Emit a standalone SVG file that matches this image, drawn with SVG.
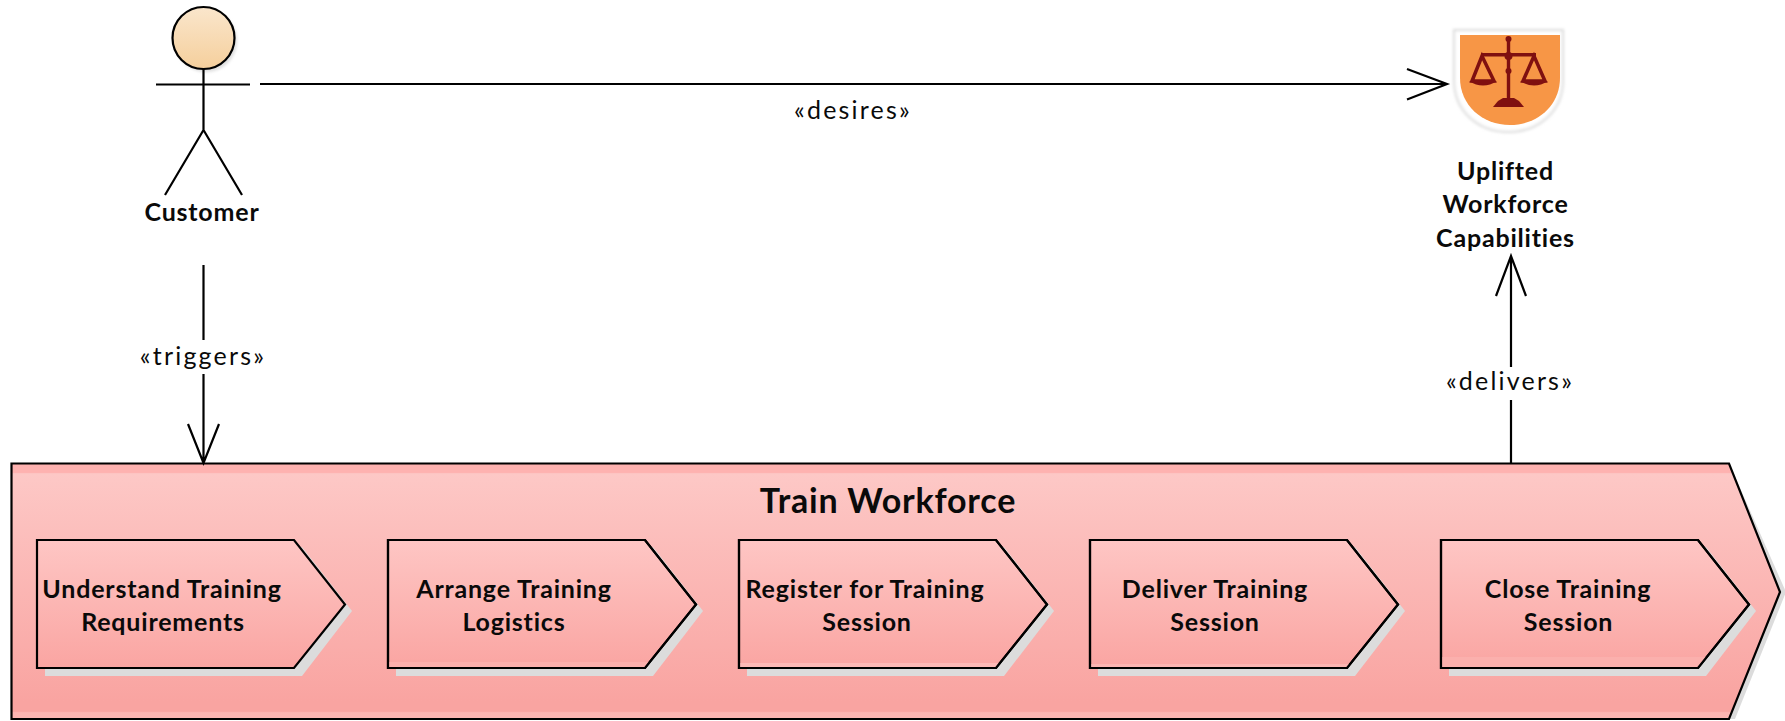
<svg xmlns="http://www.w3.org/2000/svg" width="1785" height="721" viewBox="0 0 1785 721">
<style>
.t{font-family:Lato,"Liberation Sans",sans-serif;fill:#0a0a0a;text-anchor:middle}
.b{font-weight:700;font-size:25px;letter-spacing:.8px}
.l{font-size:25px;letter-spacing:2.2px}
.n{stroke:#000;stroke-width:2.200;fill:url(#g);stroke-linejoin:miter}
.o{fill:none}
.c{stroke:#000;stroke-width:2.200;fill:none}
.s{fill:#dcdcdc}
</style>
<defs>
<linearGradient id="g" x1="0" y1="0" x2="0" y2="1">
<stop offset="0" stop-color="#feb2b0"/><stop offset=".035" stop-color="#feb2b0"/><stop offset=".04" stop-color="#fdc8c6"/><stop offset=".93" stop-color="#f9a4a1"/><stop offset=".97" stop-color="#f9a4a1"/><stop offset=".975" stop-color="#fcb5b2"/><stop offset="1" stop-color="#fcb5b2"/>
</linearGradient>
<linearGradient id="h" x1="0" y1="0" x2="0" y2="1"><stop offset="0" stop-color="#fae6cc"/><stop offset="1" stop-color="#f5cf9c"/></linearGradient>
<linearGradient id="i" x1="0" y1="0" x2="0" y2="1"><stop offset="0" stop-color="#fec6c4"/><stop offset="1" stop-color="#faa5a2"/></linearGradient>
<filter id="blur" x="-10%" y="-10%" width="120%" height="120%"><feGaussianBlur stdDeviation="1.500"/></filter>
</defs>
<g id="train-workforce">
<path class="s" d="M1729 463l57 129-51 127h-6z" />
<path class="n" d="M11.5 463.5H1729L1780 592 1729 719H11.5Z"/>
<text class="t" x="888" y="513" style="font-weight:700;font-size:34px;letter-spacing:.8px">Train Workforce</text>
</g>
<g id="understand"><path class="s" d="M45 547H302L352 611 302 676H45Z"/><path class="n" style="fill:url(#i)" d="M37 540H294L345 604.5 294 668H37Z"/><text class="t b" x="162" y="598">Understand Training</text><text class="t b" x="163" y="631">Requirements</text></g>
<g id="arrange"><path class="s" d="M396 547H653L703 611 653 676H396Z"/><path class="n" style="fill:url(#i)" d="M388 540H645L696 604.5 645 668H388Z"/><path d="M389 662H649L645 667H389Z" fill="#fcb0ad"/><path class="n o" d="M388 540H645L696 604.5 645 668H388Z"/><text class="t b" x="514" y="598">Arrange Training</text><text class="t b" x="514" y="631">Logistics</text></g>
<g id="register"><path class="s" d="M747 547H1004L1054 611 1004 676H747Z"/><path class="n" style="fill:url(#i)" d="M739 540H996L1047 604.5 996 668H739Z"/><path d="M740 663H999L996 667H740Z" fill="#fdb9b6"/><path class="n o" d="M739 540H996L1047 604.5 996 668H739Z"/><text class="t b" x="865" y="598">Register for Training</text><text class="t b" x="867" y="631">Session</text></g>
<g id="deliver"><path class="s" d="M1098 547H1355L1405 611 1355 676H1098Z"/><path class="n" style="fill:url(#i)" d="M1090 540H1347L1398 604.5 1347 668H1090Z"/><path d="M1091 664H1350L1347 667H1091Z" fill="#fcb5b2"/><path class="n o" d="M1090 540H1347L1398 604.5 1347 668H1090Z"/><text class="t b" x="1215" y="598">Deliver Training</text><text class="t b" x="1215" y="631">Session</text></g>
<g id="close"><path class="s" d="M1449 547H1706L1756 611 1706 676H1449Z"/><path class="n" style="fill:url(#i)" d="M1441 540H1698L1749 604.5 1698 668H1441Z"/><path d="M1442 657H1707L1698 667H1442Z" fill="#fbb0ad"/><path class="n o" d="M1441 540H1698L1749 604.5 1698 668H1441Z"/><text class="t b" x="1568" y="598">Close Training</text><text class="t b" x="1568.500" y="631">Session</text></g>
<g id="customer">
<circle cx="206" cy="41" r="31" fill="#dedede" filter="url(#blur)"/>
<circle cx="203.500" cy="38" r="31" fill="url(#h)" stroke="#000" stroke-width="2.200"/>
<path class="c" d="M156 84.500H250M203.500 69V130M203.500 130L165 195M203.500 130L242 195"/>
<text class="t b" x="202" y="221">Customer</text>
</g>
<g id="capabilities">
<path d="M1454 30H1563V80C1563 112 1538 132 1508.500 132 1479 132 1454 112 1454 80Z" fill="#fff" stroke="#dadada" stroke-width="2" filter="url(#blur)"/>
<path d="M1460 35H1560V78C1560 105 1538 125 1510 125 1482 125 1460 105 1460 78Z" fill="#f79646"/>
<g fill="#7f1010" stroke="#7f1010">
<path d="M1506.800 38h3.400v67h-3.400z" stroke="none"/>
<circle cx="1508.500" cy="39" r="3" stroke="none"/>
<path d="M1481 53h55v3.500h-55z" stroke="none"/>
<circle cx="1508.500" cy="56" r="4" stroke="none"/>
<circle cx="1508.500" cy="71" r="3" stroke="none"/>
<path d="M1498 101l5-3h11l5 3 5 6h-31z" stroke="none"/>
<path d="M1482 56L1472 81H1494Z" fill="none" stroke-width="3.500"/>
<path d="M1534 56L1523 81H1545Z" fill="none" stroke-width="3.500"/>
<path d="M1469 81H1497Q1483 90 1469 81Z" stroke="none"/>
<path d="M1520 81H1548Q1534 90 1520 81Z" stroke="none"/>
</g>
<text class="t b" x="1505.500" y="180">Uplifted</text>
<text class="t b" x="1505.500" y="213">Workforce</text>
<text class="t b" x="1505.500" y="247">Capabilities</text>
</g>
<g id="connectors">
<path class="c" d="M260 84H1447M1407 69L1447 84 1407 99.500"/>
<path class="c" d="M203.500 265V340M203.500 374V463M188 424L203.500 463 219 424"/>
<path class="c" d="M1511 463V400M1511 367V256M1496 296L1511 256 1526 296"/>
<text class="t l" x="853" y="119">«desires»</text>
<text class="t l" x="203" y="365">«triggers»</text>
<text class="t l" x="1510" y="390">«delivers»</text>
</g>
</svg>
